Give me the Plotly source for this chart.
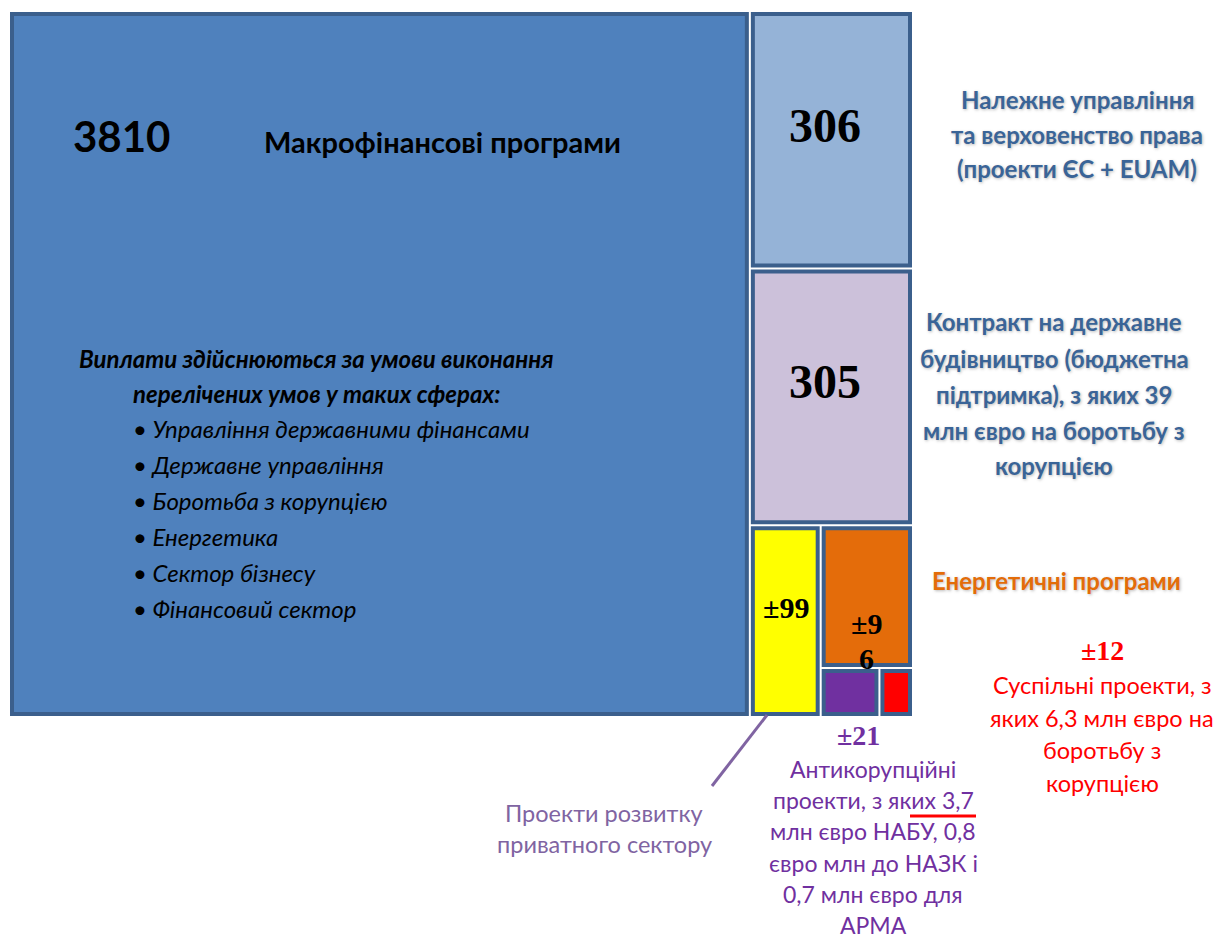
import plotly.graph_objects as go

W, H = 1225, 939

# ---- data (hierarchy drives the slice-dice treemap layout) ----
node_ids = ["total", "macro", "right", "gov", "contract", "bottom",
            "private", "grp_c", "energy", "grp_d", "anti", "social"]
node_parents = ["", "total", "total", "right", "right", "right",
                "bottom", "bottom", "grp_c", "grp_c", "grp_d", "grp_d"]
node_values = [0, 3810, 0, 306, 305, 0, 99, 0, 96, 0, 21, 12]
node_colors = ["#FFFFFF", "#4F81BD", "#FFFFFF", "#95B3D7", "#CCC1DA", "#FFFFFF",
               "#FFFF00", "#FFFFFF", "#E46C0A", "#FFFFFF", "#7030A0", "#FF0000"]
is_group = [v == 0 for v in node_values]

border = "#3B5F8C"
line_widths = [0 if g else 4 for g in is_group]
line_colors = ["#FFFFFF" if g else border for g in is_group]

fig = go.Figure(go.Treemap(
    ids=node_ids,
    labels=node_ids,
    parents=node_parents,
    values=node_values,
    branchvalues="remainder",
    sort=False,
    textinfo="none",
    hoverinfo="skip",
    marker=dict(colors=node_colors,
                line=dict(color=line_colors, width=line_widths),
                pad=dict(t=0, l=0, r=0, b=0),
                depthfade=False,
                cornerradius=2),
    tiling=dict(packing="slice-dice", pad=6),
    pathbar=dict(visible=False),
    root=dict(color="#FFFFFF"),
    domain=dict(x=[12 / W, 910 / W], y=[1 - 714 / H, 1 - 14 / H]),
))


def P(x, y):
    return x / W, 1 - y / H


annotations = []


def add_text(x, y, text, size, color="#000000", family="Lato", weight="normal",
             style="normal", xanchor="center", shadow="none"):
    px, py = P(x, y)
    annotations.append(dict(
        x=px, y=py, xref="paper", yref="paper", text=text, showarrow=False,
        xanchor=xanchor, yanchor="middle",
        font=dict(size=size, color=color, family=family, weight=weight,
                  style=style, shadow=shadow)))


# Inside the big box
add_text(121, 136, "3810", 42, weight="bold")
add_text(442, 141, "Макрофінансові програми", 29, weight="bold")

header_lines = ["Виплати здійснюються за умови виконання",
                "перелічених умов у таких сферах:"]
for i, t in enumerate(header_lines):
    add_text(316, 358 + i * 35, t, 24, weight="bold", style="italic")

bullet_items = ["Управління державними фінансами", "Державне управління",
                "Боротьба з корупцією", "Енергетика", "Сектор бізнесу",
                "Фінансовий сектор"]
for i, t in enumerate(bullet_items):
    add_text(131, 428 + i * 36, "• " + t, 24, style="italic", xanchor="left")

# Numbers inside boxes (serif bold)
serif = "Liberation Serif"
add_text(825, 125, "306", 48, family=serif, weight="bold")
add_text(825, 381, "305", 48, family=serif, weight="bold")
add_text(786, 607, "±99", 30, family=serif, weight="bold")
add_text(866, 623, "±9", 30, family=serif, weight="bold")
add_text(866, 658, "6", 30, family=serif, weight="bold")

# Side labels
blue_lbl = "#3A6497"
glow = "1px 1px 3px rgba(80,80,80,0.4)"
gov_lines = ["Належне управління", "та верховенство права", "(проекти ЄС + EUAM)"]
for i, t in enumerate(gov_lines):
    add_text(1077, 100 + i * 34, t, 24, color=blue_lbl, weight="bold", shadow=glow)

contract_lines = ["Контракт на державне", "будівництво (бюджетна",
                  "підтримка), з яких 39", "млн євро на боротьбу з", "корупцією"]
for i, t in enumerate(contract_lines):
    add_text(1054, 322 + i * 36, t, 24, color=blue_lbl, weight="bold", shadow=glow)

add_text(1056, 580, "Енергетичні програми", 24, color="#E36C09", weight="bold", shadow=glow)

add_text(1102, 650, "±12", 28, color="#FF0000", family=serif, weight="bold")
social_lines = ["Суспільні проекти, з", "яких 6,3 млн євро на", "боротьбу з", "корупцією"]
for i, t in enumerate(social_lines):
    add_text(1102, 685 + i * 32.5, t, 23.5, color="#FF0000")

purple = "#7030A0"
add_text(858, 735, "±21", 28, color=purple, family=serif, weight="bold")
anti_lines = ["Антикорупційні", "проекти, з яких 3,7", "млн євро НАБУ, 0,8",
              "євро млн до НАЗК і", "0,7 млн євро для", "АРМА"]
for i, t in enumerate(anti_lines):
    add_text(873, 769 + i * 31.2, t, 23, color=purple)

private_lines = ["Проекти розвитку", "приватного сектору"]
for i, t in enumerate(private_lines):
    add_text(604, 813 + i * 31, t, 23.5, color="#8064A2")

shapes = [
    dict(type="line", xref="paper", yref="paper",
         x0=767 / W, y0=1 - 715 / H, x1=712 / W, y1=1 - 786 / H,
         line=dict(color="#8064A2", width=3)),
    dict(type="line", xref="paper", yref="paper",
         x0=910 / W, y0=1 - 816 / H, x1=976 / W, y1=1 - 816 / H,
         line=dict(color="#FF0000", width=3)),
]

fig.update_layout(
    width=W, height=H,
    margin=dict(l=0, r=0, t=0, b=0),
    paper_bgcolor="#FFFFFF",
    plot_bgcolor="#FFFFFF",
    annotations=annotations,
    shapes=shapes,
    showlegend=False,
)

fig.write_html("out.html",
               config={"displayModeBar": False},
               post_script="document.body.style.margin='0';document.body.style.overflow='hidden';")
